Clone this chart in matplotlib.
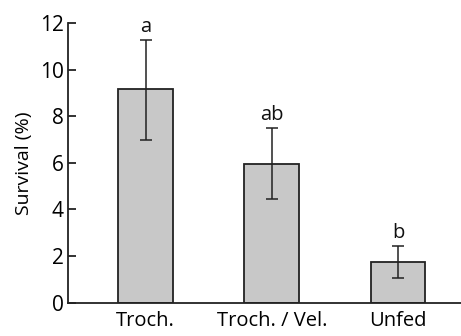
import numpy as np
import matplotlib.pyplot as plt

# Survival data
groups = ["Troch.", "Troch. / Vel.", "Unfed"]
survival = [9.15, 5.97, 1.74]
err_upper = [2.12, 1.53, 0.70]
err_lower = [2.15, 1.54, 0.70]
letters = ["a", "ab", "b"]

plt.rcParams['font.family'] = ['Open Sans', 'DejaVu Sans']

fig = plt.figure(figsize=(4.61, 3.36), dpi=100)
ax = fig.add_axes([0.1475, 0.099, 0.8525, 0.8325])

x = np.arange(len(groups))
ax.bar(x, survival, width=0.435, color='#c8c8c8', edgecolor='#222222',
       linewidth=1.3, zorder=2)
ax.errorbar(x, survival, yerr=[err_lower, err_upper], fmt='none',
            ecolor='#222222', elinewidth=1.1, capsize=4, capthick=1.1, zorder=3)

for xi, top, lab in zip(x, np.array(survival) + np.array(err_upper), letters):
    ax.text(xi, top + 0.12, lab, ha='center', va='bottom', fontsize=14.5,
            color='#111111')

ax.set_xlim(-0.617, 2.5)
ax.set_ylim(0, 12)
ax.set_yticks(range(0, 13, 2))
ax.set_xticks(x)
ax.set_xticklabels(groups)
ax.set_ylabel("Survival (%)", fontsize=14, labelpad=5)

ax.spines['top'].set_visible(False)
ax.spines['right'].set_visible(False)
for s in ('left', 'bottom'):
    ax.spines[s].set_linewidth(1.3)
    ax.spines[s].set_color('#222222')

ax.tick_params(axis='y', direction='in', length=6, width=1.3, labelsize=15,
               pad=3, color='#222222')
ax.tick_params(axis='x', length=0, labelsize=14.5, pad=6)

fig.savefig("out.png", dpi=100)
